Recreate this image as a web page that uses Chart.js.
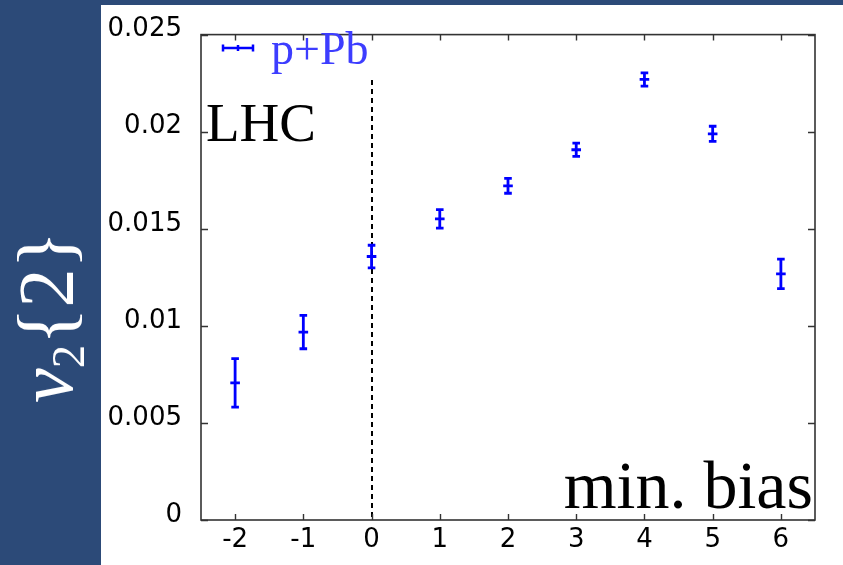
<!DOCTYPE html>
<html>
<head>
<meta charset="utf-8">
<script src="https://cdn.jsdelivr.net/npm/chart.js@4.4.1/dist/chart.umd.min.js"></script>
<style>
  html, body { margin: 0; padding: 0; }
  body { width: 843px; height: 565px; background: #2c4a78; position: relative; overflow: hidden; }
  #panel { position: absolute; left: 101px; top: 5px; width: 742px; height: 560px; background: #ffffff; }
  #c { position: absolute; left: 0; top: 0; }
  .ann { position: absolute; font-family: "Liberation Serif", "DejaVu Serif", serif; line-height: 1; white-space: nowrap; }
  #legendText { left: 271px; top: 26px; font-size: 46px; color: #3d3dff; }
  #lhc { left: 206px; top: 95px; font-size: 55px; color: #000; }
  #minbias { right: 30px; top: 451px; font-size: 68px; color: #000; }
  #ytitle { left: 46px; top: 317px; font-size: 78px; color: #ffffff; transform: translate(-50%, -50%) rotate(-90deg); transform-origin: center center; }
  #ytitle i { font-style: italic; }
  #ytitle sub { font-size: 0.6em; vertical-align: -0.25em; line-height: 0; }
</style>
</head>
<body>
<div id="panel"></div>
<canvas id="c" width="843" height="565"></canvas>
<div class="ann" id="legendText">p+Pb</div>
<div class="ann" id="lhc">LHC</div>
<div class="ann" id="minbias">min. bias</div>
<div class="ann" id="ytitle"><i>v</i><sub>2</sub>{2}</div>
<script>
// ---- data ----
const xValues = [-2, -1, 0, 1, 2, 3, 4, 5, 6];
const v2Values = [0.00706, 0.00968, 0.01357, 0.01551, 0.01721, 0.01907, 0.02269, 0.01989, 0.01268];
const v2Errors = [0.00125, 0.00086, 0.00058, 0.00048, 0.00038, 0.00034, 0.00034, 0.00039, 0.00076];
const xTickValues = [-2, -1, 0, 1, 2, 3, 4, 5, 6];
const yTickValues = [0, 0.005, 0.01, 0.015, 0.02, 0.025];
const seriesLabel = 'p+Pb';

const points = xValues.map((x, i) => ({ x: x, y: v2Values[i], err: v2Errors[i] }));

const BLUE = '#0000ff';
const FRAME = '#333333';

const overlayPlugin = {
  id: 'overlay',
  beforeDatasetsDraw(chart) {
    const ctx = chart.ctx;
    const xs = chart.scales.x;
    const a = chart.chartArea;
    // dashed vertical line at x = 0
    ctx.save();
    ctx.strokeStyle = '#000';
    ctx.lineWidth = 2;
    ctx.setLineDash([5, 4]);
    const x0 = Math.round(xs.getPixelForValue(0));
    ctx.beginPath();
    ctx.moveTo(x0, 80);
    ctx.lineTo(x0, a.bottom);
    ctx.stroke();
    ctx.restore();
  },
  afterDatasetsDraw(chart) {
    const ctx = chart.ctx;
    const xs = chart.scales.x, ys = chart.scales.y;
    const a = chart.chartArea;
    ctx.save();
    // error bars
    ctx.strokeStyle = BLUE;
    ctx.lineWidth = 2.8;
    points.forEach(p => {
      const px = xs.getPixelForValue(p.x);
      const pc = ys.getPixelForValue(p.y);
      const pt = ys.getPixelForValue(p.y + p.err);
      const pb = ys.getPixelForValue(p.y - p.err);
      ctx.beginPath();
      ctx.moveTo(px, pt); ctx.lineTo(px, pb);
      ctx.moveTo(px - 3.8, pt); ctx.lineTo(px + 3.8, pt);
      ctx.moveTo(px - 3.8, pb); ctx.lineTo(px + 3.8, pb);
      ctx.moveTo(px - 4.8, pc); ctx.lineTo(px + 4.8, pc);
      ctx.stroke();
    });
    // legend symbol
    ctx.lineWidth = 2.5;
    ctx.beginPath();
    ctx.moveTo(223, 48); ctx.lineTo(253, 48);
    ctx.moveTo(223, 44.5); ctx.lineTo(223, 51.5);
    ctx.moveTo(253, 44.5); ctx.lineTo(253, 51.5);
    ctx.moveTo(238, 45); ctx.lineTo(238, 51);
    ctx.stroke();
    // frame
    ctx.strokeStyle = FRAME;
    ctx.lineWidth = 1.6;
    ctx.strokeRect(a.left, a.top, a.right - a.left, a.bottom - a.top);
    // inward ticks on all four sides
    ctx.lineWidth = 1.4;
    ctx.beginPath();
    xTickValues.forEach(v => {
      const px = Math.round(xs.getPixelForValue(v)) + 0.5;
      ctx.moveTo(px, a.bottom); ctx.lineTo(px, a.bottom - 6);
      ctx.moveTo(px, a.top); ctx.lineTo(px, a.top + 6);
    });
    yTickValues.forEach(v => {
      const py = Math.round(ys.getPixelForValue(v)) + 0.5;
      ctx.moveTo(a.left, py); ctx.lineTo(a.left + 7, py);
      ctx.moveTo(a.right, py); ctx.lineTo(a.right - 7, py);
    });
    ctx.stroke();
    ctx.restore();
  }
};

new Chart(document.getElementById('c'), {
  type: 'scatter',
  data: {
    datasets: [{
      label: seriesLabel,
      data: points,
      pointRadius: 0,
      pointHoverRadius: 0,
      borderColor: BLUE,
      backgroundColor: BLUE,
      showLine: false
    }]
  },
  options: {
    responsive: false,
    animation: false,
    devicePixelRatio: 1,
    layout: { padding: { top: 29, right: 28, left: 0, bottom: 0 } },
    plugins: { legend: { display: false }, tooltip: { enabled: false } },
    scales: {
      x: {
        type: 'linear',
        min: -2.5,
        max: 6.5,
        afterBuildTicks: s => { s.ticks = xTickValues.map(v => ({ value: v })); },
        afterFit: s => { s.height = 45; },
        grid: { display: false, drawTicks: false },
        border: { display: false },
        ticks: {
          padding: 5,
          color: '#000',
          font: { family: 'DejaVu Sans', size: 26 },
          callback: v => String(v)
        }
      },
      y: {
        type: 'linear',
        min: 0,
        max: 0.025,
        afterBuildTicks: s => { s.ticks = yTickValues.map(v => ({ value: v })); },
        afterFit: s => { s.width = 201; },
        grid: { display: false, drawTicks: false },
        border: { display: false },
        ticks: {
          padding: 19,
          labelOffset: -5,
          color: '#000',
          font: { family: 'DejaVu Sans', size: 26 },
          callback: v => String(Number(v.toFixed(3)))
        }
      }
    }
  },
  plugins: [overlayPlugin]
});
</script>
</body>
</html>
